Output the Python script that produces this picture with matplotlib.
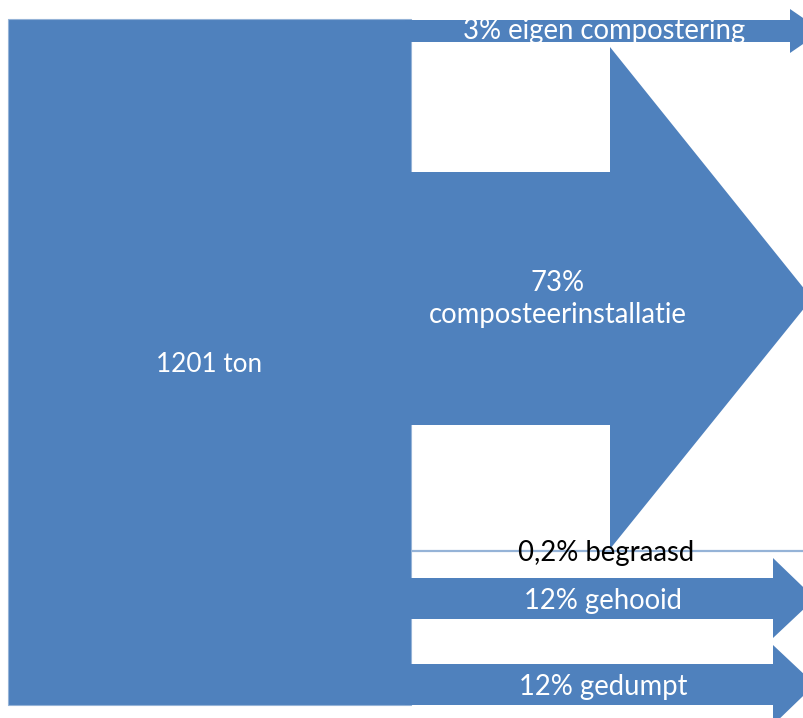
import matplotlib
matplotlib.use("Agg")
import matplotlib.pyplot as plt
from matplotlib.patches import Polygon, Rectangle

# ---- data ----
total_label = "1201 ton"
flow_labels = ["3% eigen compostering", "73%\ncomposteerinstallatie", "0,2% begraasd",
               "12% gehooid", "12% gedumpt"]
flow_pct = [3, 73, 0.2, 12, 12]

# ---- style / layout ----
BLUE = "#4F81BD"
LIGHT = "#95B3D7"
W, H = 804, 718

fig = plt.figure(figsize=(W / 100, H / 100), dpi=100)
ax = fig.add_axes([0, 0, 1, 1])
ax.set_xlim(0, W)
ax.set_ylim(H, 0)
ax.axis("off")

FONT = ["Lato", "DejaVu Sans"]

def arrow(x0, y0, y1, xh, hy0, hy1, xtip):
    ym = (y0 + y1) / 2
    pts = [(x0, y0), (xh, y0), (xh, hy0), (xtip, ym), (xh, hy1), (xh, y1), (x0, y1)]
    ax.add_patch(Polygon(pts, closed=True, facecolor=BLUE, edgecolor="none"))

# source block
ax.add_patch(Rectangle((8, 19), 403, 686, facecolor=BLUE, edgecolor=LIGHT, lw=0.8))

# flows
arrow(405, 20, 42, 790, 9, 53, 822)       # eigen compostering
arrow(405, 172, 425, 610, 47, 549, 812)   # composteerinstallatie
arrow(405, 578, 619, 773, 558, 638, 815)  # gehooid
arrow(405, 664, 705, 773, 645, 725, 815)  # gedumpt
ax.plot([411, W], [551, 551], color=LIGHT, lw=1.6, solid_capstyle="butt")

fs = 19.8
ax.text(209, 365, total_label, color="white", fontsize=18.8, ha="center", va="center", family=FONT)
ax.text(604, 31, flow_labels[0], color="white", fontsize=fs, ha="center", va="center", family=FONT)
ax.text(558, 299, flow_labels[1], color="white", fontsize=fs, ha="center", va="center",
        family=FONT, linespacing=1.3)
ax.text(606, 553, flow_labels[2], color="black", fontsize=fs, ha="center", va="center", family=FONT)
ax.text(603, 601, flow_labels[3], color="white", fontsize=fs, ha="center", va="center", family=FONT)
ax.text(603, 687, flow_labels[4], color="white", fontsize=fs, ha="center", va="center", family=FONT)

fig.savefig("out.png", dpi=100, facecolor="white")
